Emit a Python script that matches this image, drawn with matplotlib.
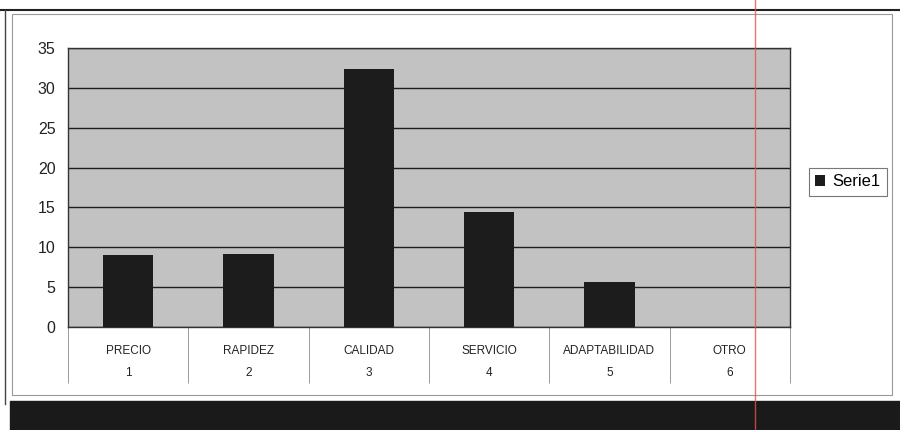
import matplotlib
matplotlib.use('Agg')
import matplotlib.pyplot as plt
from matplotlib.patches import Rectangle
from matplotlib.lines import Line2D

categories = ['PRECIO', 'RAPIDEZ', 'CALIDAD', 'SERVICIO', 'ADAPTABILIDAD', 'OTRO']
numbers = ['1', '2', '3', '4', '5', '6']
serie1 = [9.0, 9.2, 32.3, 14.4, 5.7, 0]
series_name = 'Serie1'

plt.rcParams['font.family'] = ['Liberation Sans', 'DejaVu Sans']

fig = plt.figure(figsize=(9, 4.3), dpi=100)
fig.patch.set_facecolor('white')

# marco del área del gráfico (escaneo)
fig.add_artist(Line2D([0.0, 1.0], [0.977, 0.977], color='#222222', lw=1.5))
fig.add_artist(Line2D([0.006, 0.006], [0.06, 0.977], color='#444444', lw=1.0))
fig.add_artist(Rectangle((0.013, 0.082), 0.978, 0.885, fill=False,
                         edgecolor='#999999', lw=0.8))
fig.add_artist(Rectangle((0.011, 0.0), 0.989, 0.068, color='#1a1a1a'))

ax = fig.add_axes([0.0756, 0.2395, 0.802, 0.649])
ax.set_facecolor('#c2c2c2')

x = list(range(len(categories)))
ax.bar(x, serie1, width=0.42, color='#1c1c1c', zorder=3, label=series_name)

ax.set_xlim(-0.5, len(categories) - 0.5)
ax.set_ylim(0, 35)
ax.set_yticks(range(0, 36, 5))
ax.yaxis.grid(True, color='#1e1e1e', lw=1.0, zorder=1)
ax.set_axisbelow(True)
ax.tick_params(axis='y', length=0, labelsize=11.5, pad=9, colors='#222222')

for s in ax.spines.values():
    s.set_color('#333333')
    s.set_linewidth(1.0)

# eje de categorías en dos niveles
ax.set_xticks(x)
ax.set_xticklabels([])
ax.tick_params(axis='x', which='major', length=0)
ax.set_xticks([i - 0.5 for i in range(len(categories) + 1)], minor=True)
ax.tick_params(axis='x', which='minor', direction='out', length=40,
               width=0.6, color='#8a8a8a')

for i, (name, num) in enumerate(zip(categories, numbers)):
    ax.annotate(name, xy=(i, 0), xycoords=('data', 'axes fraction'),
                xytext=(0, -17), textcoords='offset points',
                ha='center', va='center', fontsize=8.5, color='#222222')
    ax.annotate(num, xy=(i, 0), xycoords=('data', 'axes fraction'),
                xytext=(0, -33), textcoords='offset points',
                ha='center', va='center', fontsize=8.5, color='#222222')

leg = ax.legend(loc='center left', bbox_to_anchor=(1.026, 0.52),
                frameon=True, fancybox=False, fontsize=12,
                handlelength=0.6, handleheight=0.6, handletextpad=0.4,
                borderpad=0.4, borderaxespad=0)
leg.get_frame().set_edgecolor('#555555')
leg.get_frame().set_linewidth(0.8)

# línea roja del escaneo
fig.add_artist(Line2D([0.839, 0.839], [0.0, 1.0], color='#e85050', lw=1.0, alpha=0.8))

fig.savefig('out.png', dpi=100)
